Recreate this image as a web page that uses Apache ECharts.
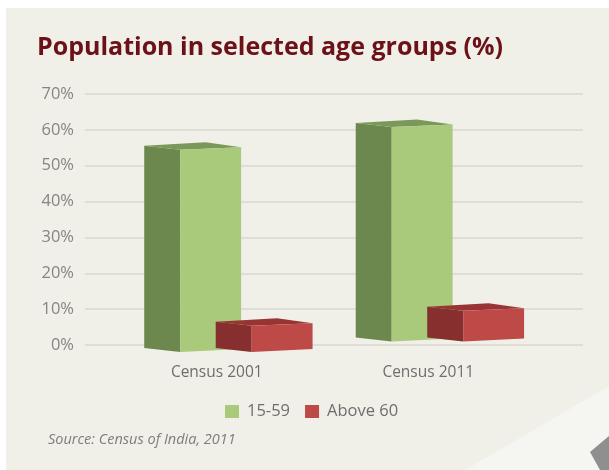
<!DOCTYPE html>
<html>
<head>
<meta charset="utf-8">
<script src="https://cdn.jsdelivr.net/npm/echarts@6/dist/echarts.min.js"></script>
<style>html,body{margin:0;padding:0;background:#fff}#c{width:609px;height:470px}</style>
</head>
<body>
<div id="c"></div>
<script>
const categories = ['Census 2001', 'Census 2011'];
const seriesNames = ['15-59', 'Above 60'];
const age15to59 = [56.4, 59.8];
const above60 = [7.3, 8.6];
const yMin = 0, yMax = 70, yStep = 10;

const FONT = '"Open Sans", "Noto Sans", sans-serif';
const palettes = [
  { front: '#a9c97b', side: '#6d884e', top: '#7b985b' },
  { front: '#bd4a47', side: '#872e2e', top: '#983434' }
];
// perspective tilt of the drawing (pixels), per category position
const baseTilt = [7, -3.5];

function makeRender(si) {
  const pal = palettes[si];
  return function (params, api) {
    const idx = api.value(0);
    const val = api.value(1);
    const band = api.size([1, 0])[0];
    const p0 = api.coord([idx, 0]);
    const p1 = api.coord([idx, val]);
    const tilt = baseTilt[idx] || 0;
    const yB = p0[1] + tilt;
    const yT = p1[1] + tilt;
    const xL = p0[0] + (si === 0 ? -0.31 : 0.028) * band;
    const w = 0.288 * band;
    const xR = xL + w;
    const d = 0.17 * band;
    const peak = 0.12 * band;
    return {
      type: 'group',
      children: [
        { type: 'polygon', shape: { points: [[xL - d, yT - 4], [xL, yT], [xL, yB], [xL - d, yB - 4]] },
          style: { fill: pal.side } },
        { type: 'polygon', shape: { points: [[xL - d, yT - 4], [xL + peak, yT - 7.5], [xR, yT - 2.5], [xL, yT]] },
          style: { fill: pal.top } },
        { type: 'polygon', shape: { points: [[xL, yT], [xR, yT - 2.5], [xR, yB - 3], [xL, yB]] },
          style: { fill: pal.front } }
      ]
    };
  };
}

const chart = echarts.init(document.getElementById('c'), null, { renderer: 'canvas' });
chart.setOption({
  backgroundColor: '#ffffff',
  animation: false,
  textStyle: { fontFamily: FONT },
  graphic: [
    { type: 'rect', z: -10, shape: { x: 6, y: 8, width: 603, height: 462 }, style: { fill: '#f0efe8' } },
    { type: 'polygon', z: -9, shape: { points: [[465, 470], [609, 386], [609, 470]] }, style: { fill: '#f5f5f1' } },
    { type: 'polygon', z: -8, shape: { points: [[590, 452], [609, 436], [609, 470], [600, 470]] }, style: { fill: '#8f8f8f' } },
    { type: 'text', left: 48, top: 432,
      style: { text: 'Source: Census of India, 2011', fontFamily: FONT, fontSize: 14.5, fontStyle: 'italic', fill: '#7d7d7d' } }
  ],
  title: {
    text: 'Population in selected age groups (%)',
    left: 32, top: 30,
    textStyle: { fontFamily: FONT, fontSize: 25, fontWeight: 'bold', color: '#6b1117' }
  },
  legend: {
    data: seriesNames,
    left: 220, top: 398,
    icon: 'rect',
    itemWidth: 14, itemHeight: 13, itemGap: 15,
    textStyle: { fontFamily: FONT, fontSize: 16.5, color: '#6e6e6e', padding: [0, 0, 0, 3] }
  },
  grid: [
    { left: 85, right: 26, top: 94, bottom: 125 },
    { left: 140, right: 46, top: 94, bottom: 125 }
  ],
  xAxis: [
    { type: 'category', gridIndex: 0, data: categories, show: false },
    { type: 'category', gridIndex: 1, data: categories,
      axisLine: { show: false }, axisTick: { show: false },
      axisLabel: { margin: 20, fontFamily: FONT, fontSize: 15.5, color: '#6e6e6e', padding: [0, 58, 0, 0] } }
  ],
  yAxis: [
    { type: 'value', gridIndex: 0, min: yMin, max: yMax, interval: yStep,
      axisLine: { show: false }, axisTick: { show: false },
      axisLabel: { formatter: '{value}%', margin: 11, fontFamily: FONT, fontSize: 16.5, color: '#858585' },
      splitLine: { lineStyle: { color: '#d9d8d1', width: 1.5 } } },
    { type: 'value', gridIndex: 1, min: yMin, max: yMax, interval: yStep, show: false,
      splitLine: { show: false } }
  ],
  series: [
    { name: seriesNames[0], type: 'custom', xAxisIndex: 1, yAxisIndex: 1,
      itemStyle: { color: palettes[0].front },
      renderItem: makeRender(0),
      data: categories.map((c, i) => [i, age15to59[i]]) },
    { name: seriesNames[1], type: 'custom', xAxisIndex: 1, yAxisIndex: 1,
      itemStyle: { color: palettes[1].front },
      renderItem: makeRender(1),
      data: categories.map((c, i) => [i, above60[i]]) }
  ]
});
</script>
</body>
</html>
